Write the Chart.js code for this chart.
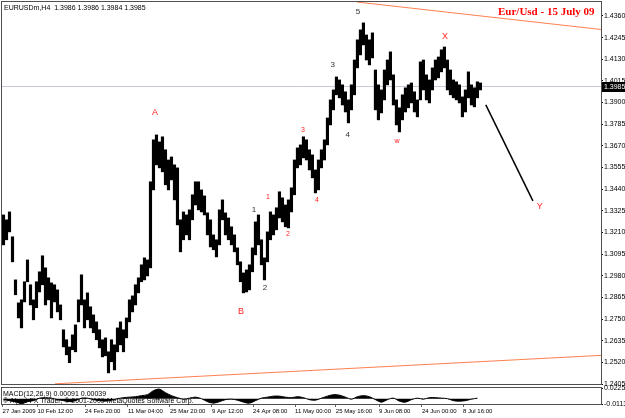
<!DOCTYPE html>
<html>
<head>
<meta charset="utf-8">
<script src="https://cdn.jsdelivr.net/npm/chart.js@4.4.0/dist/chart.umd.min.js"></script>
<style>
  html, body { margin: 0; padding: 0; background: #fff; }
  #wrap { position: relative; width: 625px; height: 418px; overflow: hidden; background: #fff; }
  canvas { position: absolute; left: 0; }
  #main { top: 0; }
  #macd { top: 380px; }
  .txt { position: absolute; white-space: pre; font-family: 'Liberation Sans', Arial, sans-serif; font-size: 7px; color: #000; line-height: 1; }
  #title { font: bold 11px 'Liberation Serif', 'Times New Roman', serif; color: #ff0000; }
</style>
</head>
<body>
<div id="wrap">
  <canvas id="main" width="625" height="386"></canvas>
  <canvas id="macd" width="625" height="38"></canvas>
  <div class="txt" style="left:4px;top:4px">EURUSDm,H4  1.3986 1.3986 1.3984 1.3985</div>
  <div class="txt" id="title" style="left:498px;top:5px">Eur/Usd - 15 July 09</div>
  <div class="txt" style="left:3px;top:390px">MACD(12,26,9) 0.00091 0.00039</div>
  <div class="txt" style="left:3px;top:397px">© Alpari FX Trader, © 2001-2009 MetaQuotes Software Corp.</div>
</div>
<script>
// H4 price range per column (~4-5 bars per column)
const highs = [
  1.3303, 1.3277, 1.3319, 1.3187, 1.2958, 1.2836, 1.2852, 1.2948, 1.3064, 1.2932,
  1.2852, 1.2948, 1.3001, 1.3086, 1.3022, 1.2969, 1.2942, 1.2932, 1.2905, 1.2825,
  1.2693, 1.2640, 1.2602, 1.2666, 1.2719, 1.2852, 1.2985, 1.2852, 1.2889, 1.2815,
  1.2772, 1.2735, 1.2693, 1.2640, 1.2650, 1.2576, 1.2640, 1.2613, 1.2703, 1.2735,
  1.2693, 1.2756, 1.2852, 1.2873, 1.2932, 1.2969, 1.3038, 1.3075, 1.3064, 1.3479,
  1.3702, 1.3728, 1.3691, 1.3718, 1.3649, 1.3595, 1.3611, 1.3569, 1.3553, 1.3277,
  1.3319, 1.3303, 1.3330, 1.3410, 1.3479, 1.3479, 1.3436, 1.3404, 1.3314, 1.3277,
  1.3197, 1.3171, 1.3330, 1.3383, 1.3314, 1.3287, 1.3240, 1.3197, 1.3128, 1.3054,
  1.2995, 1.3011, 1.3038, 1.3128, 1.3266, 1.3303, 1.3171, 1.3075, 1.3213, 1.3319,
  1.3303, 1.3341, 1.3426, 1.3394, 1.3356, 1.3383, 1.3447, 1.3595, 1.3659, 1.3675,
  1.3718, 1.3702, 1.3649, 1.3622, 1.3542, 1.3595, 1.3649, 1.3702, 1.3818, 1.3914,
  1.3967, 1.4036, 1.4020, 1.3994, 1.3957, 1.3914, 1.3994, 1.4126, 1.4233, 1.4286,
  1.4323, 1.4259, 1.4233, 1.4270, 1.4073, 1.3994, 1.3967, 1.4073, 1.4126, 1.4169,
  1.4047, 1.3914, 1.3872, 1.3941, 1.3978, 1.3994, 1.4004, 1.3957, 1.3914, 1.4116,
  1.4126, 1.4047, 1.4020, 1.4084, 1.4126, 1.4142, 1.4180, 1.4195, 1.4126, 1.4073,
  1.4020, 1.4010, 1.3994, 1.3930, 1.3967, 1.4063, 1.3994, 1.3978, 1.4010, 1.4004
];
const lows = [
  1.3144, 1.3171, 1.3213, 1.3054, 1.2879, 1.2756, 1.2703, 1.2841, 1.2948, 1.2825,
  1.2746, 1.2810, 1.2894, 1.2932, 1.2825, 1.2852, 1.2756, 1.2841, 1.2788, 1.2746,
  1.2602, 1.2560, 1.2518, 1.2587, 1.2576, 1.2735, 1.2825, 1.2703, 1.2746, 1.2703,
  1.2677, 1.2640, 1.2597, 1.2549, 1.2555, 1.2464, 1.2523, 1.2480, 1.2576, 1.2613,
  1.2576, 1.2650, 1.2735, 1.2788, 1.2825, 1.2889, 1.2948, 1.2958, 1.2979, 1.3022,
  1.3436, 1.3569, 1.3553, 1.3532, 1.3463, 1.3436, 1.3489, 1.3383, 1.3250, 1.3107,
  1.3171, 1.3197, 1.3171, 1.3277, 1.3356, 1.3330, 1.3319, 1.3303, 1.3197, 1.3133,
  1.3118, 1.3080, 1.3144, 1.3277, 1.3197, 1.3171, 1.3144, 1.3107, 1.3038, 1.2948,
  1.2889, 1.2894, 1.2905, 1.3001, 1.3091, 1.3144, 1.3038, 1.2958, 1.3054, 1.3171,
  1.3197, 1.3224, 1.3287, 1.3266, 1.3240, 1.3234, 1.3319, 1.3410, 1.3553, 1.3569,
  1.3606, 1.3595, 1.3542, 1.3500, 1.3420, 1.3436, 1.3553, 1.3595, 1.3675, 1.3781,
  1.3861, 1.3941, 1.3925, 1.3887, 1.3850, 1.3792, 1.3861, 1.3941, 1.4084, 1.4153,
  1.4206, 1.4126, 1.4100, 1.4137, 1.3861, 1.3808, 1.3845, 1.3914, 1.3994, 1.4020,
  1.3887, 1.3781, 1.3744, 1.3808, 1.3850, 1.3872, 1.3898, 1.3850, 1.3824, 1.3914,
  1.3967, 1.3914, 1.3898, 1.3967, 1.4020, 1.4031, 1.4063, 1.4084, 1.3967, 1.3941,
  1.3925, 1.3914, 1.3898, 1.3824, 1.3850, 1.3925, 1.3887, 1.3877, 1.3925, 1.3967
];
const lastClose = 1.3985;

// MACD(12,26,9) histogram, one value every second column
const macd = [
  -0.0021, -0.0042, -0.0064, -0.0106, -0.0064, -0.0042, 0.0011, 0.0021, 0.0011, -0.0021,
  -0.0042, -0.0064, -0.0042, 0.0011, 0.0011, -0.0021, -0.0042, -0.0053, -0.0032, 0.0000,
  0.0021, 0.0032, 0.0042, 0.0064, 0.0085, 0.0170, 0.0201, 0.0127, 0.0064, 0.0021,
  -0.0011, 0.0011, 0.0032, 0.0000, -0.0064, -0.0095, -0.0064, -0.0021, -0.0011, -0.0032,
  -0.0074, -0.0095, -0.0042, 0.0011, 0.0032, 0.0053, 0.0053, 0.0032, 0.0021, 0.0042,
  0.0021, -0.0021, -0.0032, 0.0011, 0.0053, 0.0085, 0.0074, 0.0032, -0.0011, 0.0042,
  0.0064, 0.0042, -0.0021, -0.0074, -0.0021, 0.0011, -0.0053, -0.0074, -0.0021, 0.0011,
  -0.0011, 0.0021, 0.0021, 0.0011, 0.0000, -0.0042, -0.0053, -0.0042, -0.0011, 0.0011
];

const priceTicks = [1.4360, 1.4245, 1.4130, 1.4015, 1.3900, 1.3785, 1.3670, 1.3555, 1.3440,
  1.3325, 1.3210, 1.3095, 1.2980, 1.2865, 1.2750, 1.2635, 1.2520, 1.2405];
const macdTicks = [0.02258, 0, -0.01132];
const macdTickLabels = ['0.02258', '0.00', '-0.01132'];

const dateLabels = ['27 Jan 2009', '10 Feb 12:00', '24 Feb 20:00', '11 Mar 04:00', '25 Mar 20:00',
  '9 Apr 12:00', '24 Apr 08:00', '11 May 00:00', '25 May 16:00', '9 Jun 08:00', '24 Jun 00:00', '8 Jul 16:00'];
const dateColumns = [-0.3, 11.3, 27.2, 41.5, 55.5, 69.5, 83.2, 97.2, 110.8, 125.2, 139.5, 153.2];

// drawn objects on the chart: trend lines and the projected leg
const upperTrend = [[117.8, 1.4434], [199.2, 1.4288]];
const lowerTrend = [[17.2, 1.2406], [199.2, 1.2557]];
const projection = [[160.8, 1.3888], [176.5, 1.3378]];

// wave count: text, column, price, style
const waves = [
  ['A', 50.5, 1.3845, 'big'], ['B', 79.2, 1.2788, 'big'],
  ['1', 83.5, 1.3330, 'dark'], ['2', 87.2, 1.2916, 'dark'],
  ['1', 88.2, 1.3399, 'small'], ['2', 94.8, 1.3202, 'small'],
  ['3', 99.8, 1.3755, 'small'], ['4', 104.5, 1.3383, 'small'],
  ['3', 109.8, 1.4100, 'dark'], ['4', 114.8, 1.3728, 'dark'], ['5', 118.2, 1.4381, 'dark'],
  ['w', 131.2, 1.3696, 'small'], ['X', 147.2, 1.4249, 'big'], ['Y', 178.8, 1.3346, 'big']
];

const X_MIN = -0.5, X_MAX = 199.2;
const FONT = "'Liberation Sans', Arial, sans-serif";
const NARROW = "'Liberation Sans Narrow', 'Liberation Sans', Arial, sans-serif";
Chart.defaults.font.family = FONT;
Chart.defaults.color = '#000';

const toXY = pts => pts.map(p => ({ x: p[0], y: p[1] }));

const frame = {
  id: 'frame',
  afterDraw(chart) {
    const { ctx, chartArea: a } = chart;
    ctx.save();
    ctx.strokeStyle = '#505050';
    ctx.lineWidth = 1;
    ctx.strokeRect(a.left - 0.5, a.top - 0.5, a.right - a.left + 1, a.bottom - a.top + 1);
    ctx.restore();
  }
};

const waveText = {
  id: 'waveText',
  afterDatasetsDraw(chart) {
    const { ctx, scales: { x, y } } = chart;
    ctx.save();
    ctx.textAlign = 'center';
    ctx.textBaseline = 'middle';
    waves.forEach(w => {
      if (w[3] === 'big') { ctx.font = '9px ' + FONT; ctx.fillStyle = '#ff2020'; }
      else if (w[3] === 'small') { ctx.font = '7px ' + FONT; ctx.fillStyle = '#ff2020'; }
      else { ctx.font = '8px ' + FONT; ctx.fillStyle = '#303030'; }
      ctx.fillText(w[0], x.getPixelForValue(w[1]), y.getPixelForValue(w[2]));
    });
    // last price marker on the price axis
    const py = Math.round(y.getPixelForValue(lastClose));
    ctx.fillStyle = '#000';
    ctx.fillRect(x.right + 1, py - 5, 24, 10);
    ctx.fillStyle = '#fff';
    ctx.textAlign = 'left';
    ctx.font = '7px ' + FONT;
    ctx.fillText(lastClose.toFixed(4), x.right + 3, py);
    ctx.restore();
  }
};

new Chart(document.getElementById('main'), {
  type: 'bar',
  data: {
    datasets: [
      {
        type: 'line', data: toXY([[X_MIN, lastClose], [X_MAX, lastClose]]),
        borderColor: '#c8c8d4', borderWidth: 1, pointRadius: 0, order: 5
      },
      {
        type: 'bar', data: highs.map((h, i) => ({ x: i, y: [lows[i], h] })),
        backgroundColor: '#000', barThickness: 2.5, grouped: false, order: 4
      },
      {
        type: 'line', data: toXY(upperTrend),
        borderColor: '#ff7f50', borderWidth: 1, pointRadius: 0, order: 3
      },
      {
        type: 'line', data: toXY(lowerTrend),
        borderColor: '#ff7f50', borderWidth: 1, pointRadius: 0, order: 3
      },
      {
        type: 'line', data: toXY(projection),
        borderColor: '#000', borderWidth: 1.5, pointRadius: 0, order: 2
      }
    ]
  },
  options: {
    responsive: false,
    animation: false,
    devicePixelRatio: 1,
    layout: { padding: { left: 2, top: 2, right: 0, bottom: 2 } },
    plugins: { legend: { display: false }, tooltip: { enabled: false } },
    scales: {
      x: { type: 'linear', min: X_MIN, max: X_MAX, offset: false, display: false },
      y: {
        position: 'right', min: 1.2405, max: 1.4434,
        afterBuildTicks: s => { s.ticks = priceTicks.map(v => ({ value: v })); },
        afterFit: s => { s.width = 24; s.paddingTop = 0; s.paddingBottom = 0; },
        ticks: { font: { size: 7 }, padding: 1, callback: v => v.toFixed(4) },
        grid: { drawOnChartArea: false, tickLength: 2, color: '#000' },
        border: { display: false }
      }
    }
  },
  plugins: [frame, waveText]
});

new Chart(document.getElementById('macd'), {
  type: 'line',
  data: {
    datasets: [{
      data: macd.map((v, k) => ({ x: 2 * k, y: v })),
      borderColor: '#000', borderWidth: 1, backgroundColor: '#000',
      fill: 'origin', pointRadius: 0, tension: 0.3
    }]
  },
  options: {
    responsive: false,
    animation: false,
    devicePixelRatio: 1,
    layout: { padding: { left: 2, top: 8, right: 0, bottom: 0 } },
    plugins: { legend: { display: false }, tooltip: { enabled: false } },
    scales: {
      x: {
        type: 'linear', min: X_MIN, max: X_MAX,
        afterBuildTicks: s => { s.ticks = dateColumns.map(v => ({ value: v })); },
        afterFit: s => { s.height = 14; s.paddingLeft = 0; s.paddingRight = 0; },
        ticks: {
          font: { size: 6, family: NARROW }, padding: 1, align: 'start', maxRotation: 0, autoSkip: false,
          callback: (v, i) => dateLabels[i]
        },
        grid: { drawOnChartArea: false, tickLength: 3, color: '#606060' },
        border: { display: false }
      },
      y: {
        position: 'right', min: -0.01132, max: 0.02258,
        afterBuildTicks: s => { s.ticks = macdTicks.map(v => ({ value: v })); },
        afterFit: s => { s.width = 24; s.paddingTop = 0; s.paddingBottom = 0; },
        ticks: { font: { size: 7 }, padding: 1, callback: (v, i) => macdTickLabels[i] },
        grid: { drawOnChartArea: false, tickLength: 2, color: '#000' },
        border: { display: false }
      }
    }
  },
  plugins: [frame]
});
</script>
</body>
</html>
